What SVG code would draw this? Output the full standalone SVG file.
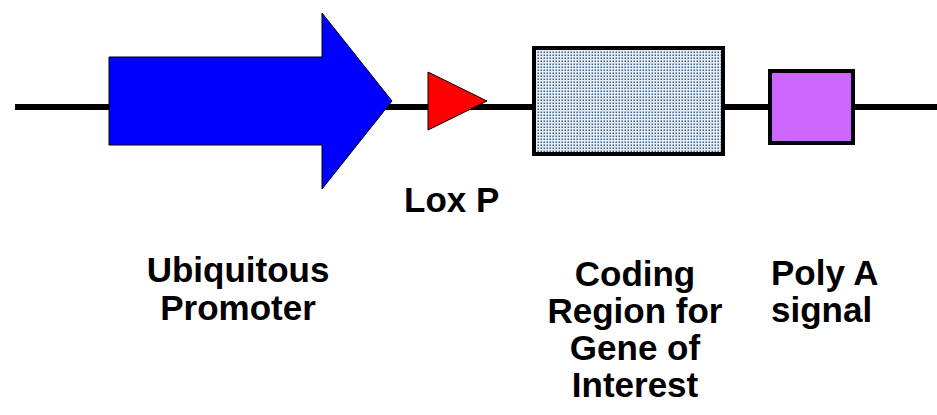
<svg xmlns="http://www.w3.org/2000/svg" width="937" height="415" viewBox="0 0 937 415">
<style>
.lbl{font-family:"Liberation Sans",Arial,sans-serif;font-weight:bold;font-size:35px;fill:#000}
.mid{text-anchor:middle}
</style>
<defs>
<pattern id="dots" width="3" height="3" patternUnits="userSpaceOnUse">
<rect width="3" height="3" fill="#e6edf5"/>
<rect x="0.5" y="0.5" width="1.5" height="1.5" fill="#41648f"/>
</pattern>
</defs>
<rect width="937" height="415" fill="#fff"/>
<g id="connectors">
<line x1="15" y1="107" x2="937" y2="107" stroke="#000" stroke-width="6"/>
</g>
<g id="promoter">
<polygon points="109,57 322,57 322,13 392,101 322,189 322,145 109,145" fill="#0000ff" stroke="#000" stroke-width="1"/>
<text class="lbl mid" x="238" y="282">Ubiquitous</text>
<text class="lbl mid" x="238" y="320">Promoter</text>
</g>
<g id="loxp">
<polygon points="428,72 487,101 428,130" fill="#ff0000" stroke="#000" stroke-width="1"/>
<text class="lbl" x="404" y="212">Lox P</text>
</g>
<g id="coding">
<rect x="534" y="48" width="189" height="106" fill="url(#dots)" stroke="#000" stroke-width="4"/>
<text class="lbl mid" x="635" y="286">Coding</text>
<text class="lbl mid" x="635" y="323">Region for</text>
<text class="lbl mid" x="635" y="360">Gene of</text>
<text class="lbl mid" x="635" y="397">Interest</text>
</g>
<g id="polya">
<rect x="770" y="71" width="83" height="72" fill="#cc66ff" stroke="#000" stroke-width="4"/>
<text class="lbl" x="771" y="285">Poly A</text>
<text class="lbl" x="771" y="322">signal</text>
</g>
</svg>
